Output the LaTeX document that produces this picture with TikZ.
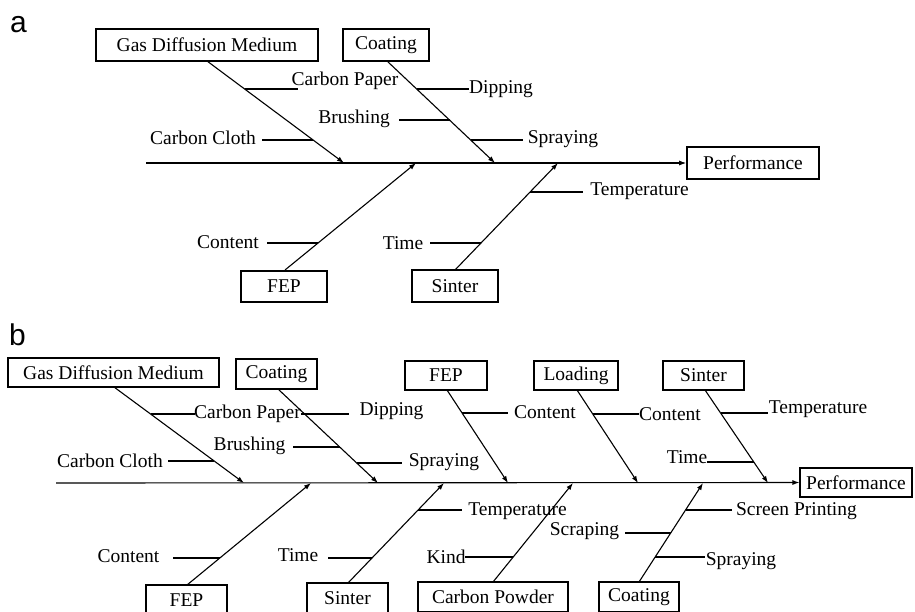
\documentclass[tikz,border=0pt]{standalone}
\usepackage{fontspec}
\setmainfont{Liberation Serif}
\setsansfont{Liberation Sans}
\usetikzlibrary{arrows.meta}
\begin{document}
\begin{tikzpicture}[x=1pt,y=-1pt,
  lbl/.style={inner sep=0pt,font=\fontsize{19.5}{22}\selectfont},
  boxa/.style={draw,line width=1.6pt,inner sep=0pt,font=\fontsize{19.5}{22}\selectfont},
  boxb/.style={draw,line width=1.1pt,inner sep=0pt,font=\fontsize{19.5}{22}\selectfont},
  ln/.style={line width=1.1pt},
  arr/.style={line width=1.1pt,-{Latex[length=7pt,width=5pt]}},
  panel/.style={inner sep=0pt,font=\sffamily\fontsize{30}{30}\selectfont,anchor=base west}]
\useasboundingbox (0,0) rectangle (915,611);
\clip (0,0) rectangle (915,611);
\fill[white] (0,0) rectangle (915,611);

% ---------------- panel a ----------------
\node[panel] (pa) at (10,32) {a};
\node[boxa,minimum width=222pt,minimum height=32pt] (gdmA) at (207,45) {Gas Diffusion Medium};
\node[boxa,minimum width=86pt,minimum height=32pt] (coatA) at (386,45) {Coating};
\node[boxa,minimum width=132pt,minimum height=32pt] (perfA) at (753,163) {Performance};
\node[boxa,minimum width=86pt,minimum height=31pt] (fepA) at (284,286.5) {FEP};
\node[boxa,minimum width=86pt,minimum height=32pt] (sinA) at (455,286) {Sinter};

\coordinate (sA) at (146,163);
\draw[arr] (sA) -- (perfA.west);
\coordinate (gA) at (207,61);   \coordinate (gAe) at (344,163);
\coordinate (cA) at (387,61);   \coordinate (cAe) at (495,163);
\coordinate (fA) at (285,270);  \coordinate (fAe) at (416,163);
\coordinate (tA) at (455,270);  \coordinate (tAe) at (558,163);
\draw[arr] (gA) -- (gAe);
\draw[arr] (cA) -- (cAe);
\draw[arr] (fA) -- (fAe);
\draw[arr] (tA) -- (tAe);

\node[lbl] (cpA) at (345,81) {Carbon Paper};
\coordinate (cp1) at (245,89); \coordinate (cp2) at (298,89);
\draw[ln] (cp1) -- (cp2);
\node[lbl] (ccA) at (203,138) {Carbon Cloth};
\coordinate (cc1) at (262,140); \coordinate (cc2) at (313,140);
\draw[ln] (cc1) -- (cc2);
\node[lbl] (dpA) at (501,89) {Dipping};
\coordinate (dp1) at (417,89); \coordinate (dp2) at (469,89);
\draw[ln] (dp1) -- (dp2);
\node[lbl] (brA) at (354,119) {Brushing};
\coordinate (br1) at (399,120); \coordinate (br2) at (449.5,120);
\draw[ln] (br1) -- (br2);
\node[lbl] (spA) at (563,139) {Spraying};
\coordinate (sp1) at (471,140); \coordinate (sp2) at (523,140);
\draw[ln] (sp1) -- (sp2);
\node[lbl] (coA) at (228,242) {Content};
\coordinate (co1) at (267,243); \coordinate (co2) at (318,243);
\draw[ln] (co1) -- (co2);
\node[lbl] (tiA) at (403,243) {Time};
\coordinate (ti1) at (430,243); \coordinate (ti2) at (481,243);
\draw[ln] (ti1) -- (ti2);
\node[lbl] (teA) at (639.5,191) {Temperature};
\coordinate (te1) at (530,192); \coordinate (te2) at (583,192);
\draw[ln] (te1) -- (te2);

% ---------------- panel b ----------------
\node[panel] (pb) at (9,345) {b};
\node[boxb,minimum width=211pt,minimum height=29pt] (gdmB) at (113.5,372.5) {Gas Diffusion Medium};
\node[boxb,minimum width=81pt,minimum height=30pt] (coatB) at (276.5,374) {Coating};
\node[boxb,minimum width=82pt,minimum height=29pt] (fepB) at (446,375.5) {FEP};
\node[boxb,minimum width=84pt,minimum height=29pt] (loadB) at (576,375.5) {Loading};
\node[boxb,minimum width=81pt,minimum height=29pt] (sinB) at (703.5,375.5) {Sinter};
\node[boxb,minimum width=112pt,minimum height=29pt] (perfB) at (856,482.5) {Performance};
\node[boxb,minimum width=81pt,minimum height=30pt] (fepB2) at (186.5,600) {FEP};
\node[boxb,minimum width=81pt,minimum height=30pt] (sinB2) at (347.5,598) {Sinter};
\node[boxb,minimum width=150pt,minimum height=30pt] (cpB) at (493,597) {Carbon Powder};
\node[boxb,minimum width=80pt,minimum height=30pt] (coatB2) at (639,597) {Coating};

\coordinate (sB) at (56,483);
\draw[arr] (sB) -- (perfB.west);
\coordinate (g1) at (114,387); \coordinate (g1e) at (244,483);
\coordinate (g2) at (278,389); \coordinate (g2e) at (378,483);
\coordinate (g3) at (447,390); \coordinate (g3e) at (508,483);
\coordinate (g4) at (577,390); \coordinate (g4e) at (638,483);
\coordinate (g5) at (705,390); \coordinate (g5e) at (768,483);
\coordinate (h1) at (187,585); \coordinate (h1e) at (311,483);
\coordinate (h2) at (348,583); \coordinate (h2e) at (444,483);
\coordinate (h3) at (493,582); \coordinate (h3e) at (573,483);
\coordinate (h4) at (639,582); \coordinate (h4e) at (703,483);
\foreach \p in {g1,g2,g3,g4,g5,h1,h2,h3,h4}{\draw[arr] (\p) -- (\p e);}

\node[lbl] (bcp) at (247.5,414) {Carbon Paper};
\coordinate (b1a) at (151,414); \coordinate (b1b) at (195,414);
\draw[ln] (b1a) -- (b1b);
\node[lbl] (bdp) at (391.5,411) {Dipping};
\coordinate (b2a) at (301,414); \coordinate (b2b) at (349,414);
\draw[ln] (b2a) -- (b2b);
\node[lbl] (bbr) at (249.5,446) {Brushing};
\coordinate (b3a) at (293,447); \coordinate (b3b) at (340,447);
\draw[ln] (b3a) -- (b3b);
\node[lbl] (bcc) at (110,461) {Carbon Cloth};
\coordinate (b4a) at (168,461); \coordinate (b4b) at (214,461);
\draw[ln] (b4a) -- (b4b);
\node[lbl] (bsp) at (444,462) {Spraying};
\coordinate (b5a) at (357,463); \coordinate (b5b) at (402,463);
\draw[ln] (b5a) -- (b5b);
\node[lbl] (bco1) at (545,412) {Content};
\coordinate (b6a) at (462,413); \coordinate (b6b) at (508,413);
\draw[ln] (b6a) -- (b6b);
\node[lbl] (bco2) at (670,414) {Content};
\coordinate (b7a) at (593,414); \coordinate (b7b) at (639,414);
\draw[ln] (b7a) -- (b7b);
\node[lbl] (bte1) at (818,409) {Temperature};
\coordinate (b8a) at (721,413); \coordinate (b8b) at (768,413);
\draw[ln] (b8a) -- (b8b);
\node[lbl] (bti1) at (687,457) {Time};
\coordinate (b9a) at (707,462); \coordinate (b9b) at (754,462);
\draw[ln] (b9a) -- (b9b);
\node[lbl] (bco3) at (128.5,556) {Content};
\coordinate (b10a) at (173,558); \coordinate (b10b) at (220,558);
\draw[ln] (b10a) -- (b10b);
\node[lbl] (bti2) at (298,555) {Time};
\coordinate (b11a) at (328,558); \coordinate (b11b) at (372,558);
\draw[ln] (b11a) -- (b11b);
\node[lbl] (bte2) at (517.5,511) {Temperature};
\coordinate (b12a) at (418,510); \coordinate (b12b) at (462,510);
\draw[ln] (b12a) -- (b12b);
\node[lbl] (bki) at (446,557) {Kind};
\coordinate (b13a) at (465,557); \coordinate (b13b) at (513,557);
\draw[ln] (b13a) -- (b13b);
\node[lbl] (bspr) at (796.5,511) {Screen Printing};
\coordinate (b14a) at (686,510); \coordinate (b14b) at (732,510);
\draw[ln] (b14a) -- (b14b);
\node[lbl] (bscr) at (584.5,531) {Scraping};
\coordinate (b15a) at (625,533); \coordinate (b15b) at (671,533);
\draw[ln] (b15a) -- (b15b);
\node[lbl] (bsp2) at (741,561) {Spraying};
\coordinate (b16a) at (655,557); \coordinate (b16b) at (705,557);
\draw[ln] (b16a) -- (b16b);
\end{tikzpicture}
\end{document}
